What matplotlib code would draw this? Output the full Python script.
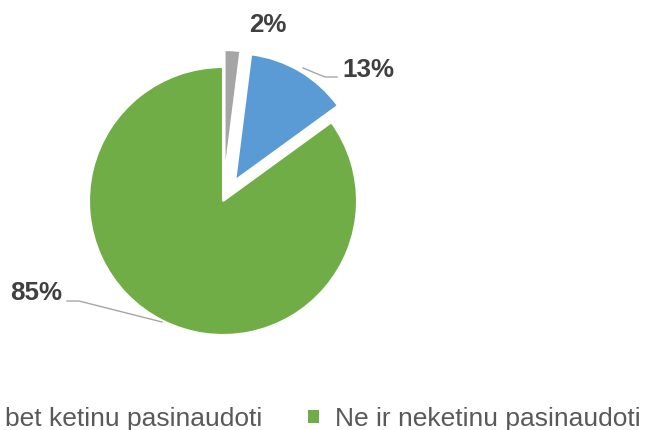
import matplotlib
matplotlib.use("Agg")
import matplotlib.pyplot as plt

# survey answers, share of respondents (%)
shares = [2, 13, 85]
colors = ["#A5A5A5", "#5B9BD5", "#70AD47"]
legend_labels = ["bet ketinu pasinaudoti", "Ne ir neketinu pasinaudoti"]

W, H = 647, 430
fig = plt.figure(figsize=(W / 100, H / 100), dpi=100)
ax = fig.add_axes([0, 0, 1, 1])

wedges, _ = ax.pie(shares, colors=colors, center=(223, 229), radius=134,
                   startangle=90, counterclock=False, explode=[24, 24, 0],
                   wedgeprops=dict(edgecolor="white", linewidth=1.5),
                   frame=True)
ax.set_xlim(0, W)
ax.set_ylim(0, H)
ax.axis("off")
# the pulled-out slices are drawn a little smaller
wedges[0].set_radius(127)
wedges[1].set_radius(127)

lab_font = dict(fontsize=18.7, fontweight="bold", color="#404040",
                family="Liberation Sans", ha="center", va="center")
line_kw = dict(color="#A6A6A6", lw=1.0)

ax.text(268, 430 - 25, f"{shares[0]}%", **lab_font)

ax.text(368, 430 - 70, f"{shares[1]}%", **lab_font)
ax.plot([303, 325, 337], [430 - 68, 430 - 77, 430 - 77], **line_kw)

ax.text(36, 430 - 293, f"{shares[2]}%", **lab_font)
ax.plot([67, 79, 162], [430 - 301, 430 - 301, 430 - 322], **line_kw)

leg = ax.legend([wedges[1], wedges[2]], legend_labels, loc="center left",
                bbox_to_anchor=(-22, 430 - 419), bbox_transform=ax.transData,
                ncol=2, frameon=False, borderpad=0, borderaxespad=0,
                handlelength=0.42, handleheight=0.42, handletextpad=0.6,
                columnspacing=1.75,
                prop=dict(family="Liberation Sans", size=19.0))
for t in leg.get_texts():
    t.set_color("#595959")
for h in leg.legend_handles:
    h.set_edgecolor("none")

fig.savefig("out.png", dpi=100)
